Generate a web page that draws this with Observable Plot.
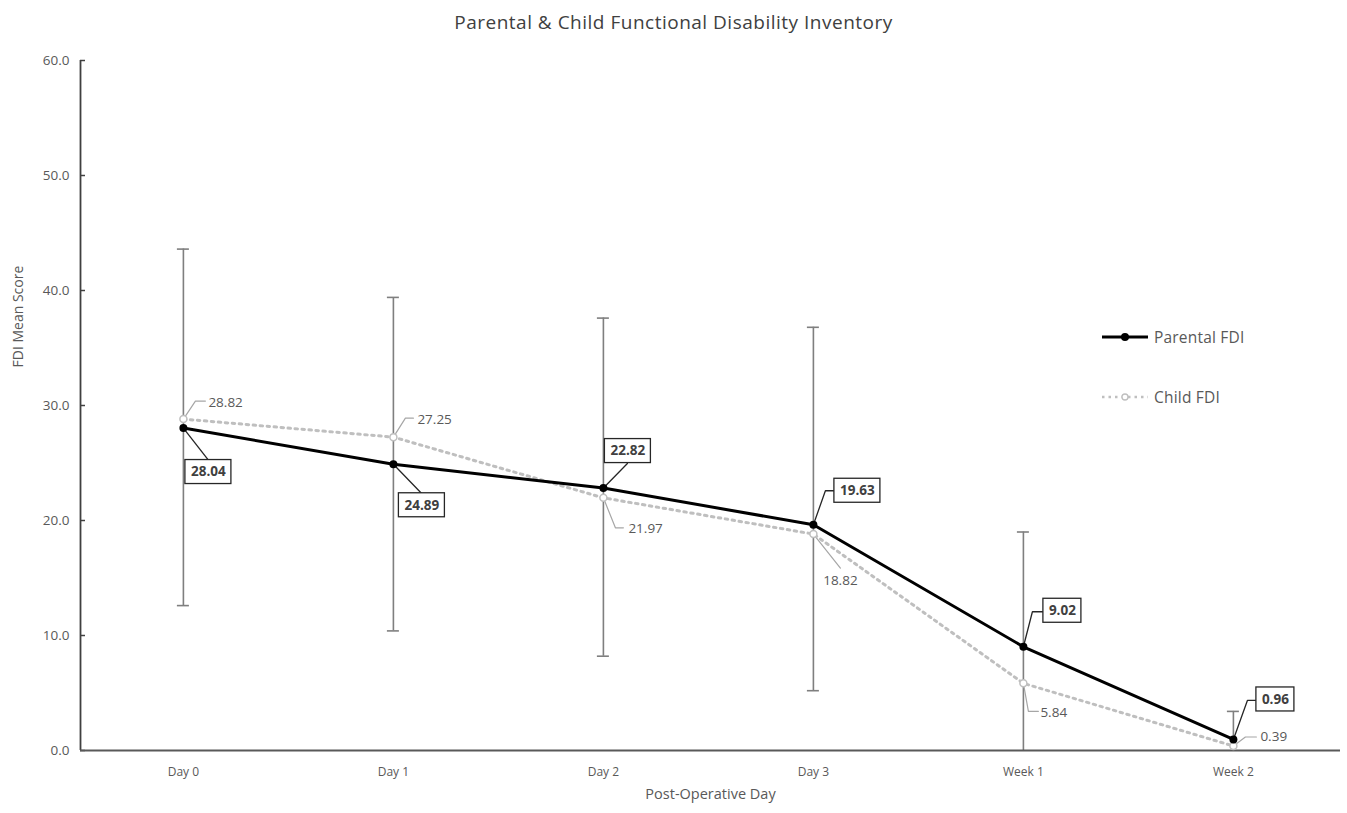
<!DOCTYPE html>
<html><head><meta charset="utf-8">
<script src="https://cdn.jsdelivr.net/npm/d3@7"></script>
<script src="https://cdn.jsdelivr.net/npm/@observablehq/plot@0.6"></script>
<style>
body{margin:0;background:#fff;font-family:"Open Sans",sans-serif;}
#wrap{position:relative;width:1347px;height:813px;overflow:hidden;}
#title{height:40px;line-height:44px;text-align:center;font-size:19px;letter-spacing:0.5px;color:#404040;}
.leg{position:absolute;display:flex;align-items:center;font-size:15.5px;letter-spacing:0.2px;color:#595959;height:20px;}
.leg svg{margin-right:4px;}
</style></head><body>
<div id="wrap">
<div id="title">Parental &amp; Child Functional Disability Inventory</div>
<div id="chart"></div>
</div>
<script>
// ---- data ----
const categories = ["Day 0", "Day 1", "Day 2", "Day 3", "Week 1", "Week 2"];
const parental = [28.04, 24.89, 22.82, 19.63, 9.02, 0.96];
const child = [28.82, 27.25, 21.97, 18.82, 5.84, 0.39];
const errUpper = [43.6, 39.4, 37.6, 36.8, 19.0, 3.4];
const errLower = [12.6, 10.4, 8.2, 5.2, 0, 0];
const yTicks = [0, 10, 20, 30, 40, 50, 60];
const seriesNames = ["Parental FDI", "Child FDI"];

// ---- layout (pixels) ----
const W = 1347, H = 773, ML = 80, MR = 7, MT = 20, MB = 63;
const xDomain = [-0.49, 5.51], yDomain = [0, 60];
const PX = (W - ML - MR) / (xDomain[1] - xDomain[0]);
const PY = (H - MT - MB) / (yDomain[1] - yDomain[0]);
// label offsets from the data point, in px (dx right, dy down)
const parentalBoxPos = [[25,44],[28.5,41],[24.5,-37],[44,-34],[39,-36],[42,-40]];
const parentalLeaders = [[[25,32]],[[28,29]],[[24,-24.5]],[[12,-34],[21,-34]],[[9,-35],[20,-35]],[[14,-39],[23,-39]]];
const childTextPos = [[25,-16,"start"],[24,-17,"start"],[25,31,"start"],[27,47,"middle"],[17,29,"start"],[27,-9,"start"]];
const childLeaders = [[[12,-18],[22,-18]],[[12,-19],[20,-19]],[[12,30],[20,30]],[[27,34]],[[5,28],[15,28]],[[12,-9],[23,-9]]];

const idx = categories.map((c, i) => i);
const off = (i, v, d) => ({x: i + d[0] / PX, y: v - d[1] / PY});

const rows = idx.map(i => ({i, parental: parental[i], child: child[i], hi: errUpper[i], lo: errLower[i]}));
const caps = [];
rows.forEach(r => { caps.push({i: r.i, y: r.hi}); if (r.lo > 0) caps.push({i: r.i, y: r.lo}); });

const leaderData = (vals, leaders, key) => idx.flatMap(i =>
  [{x: i, y: vals[i]}, ...leaders[i].map(d => off(i, vals[i], d))].map(p => ({...p, k: key + i})));

const boxW = s => 8 * s.length + 6, boxH = 24;
const pLabels = idx.map(i => {
  const t = parental[i].toFixed(2), c = off(i, parental[i], parentalBoxPos[i]), w = boxW(t);
  return {t, x: c.x, y: c.y, x1: c.x - w / 2 / PX, x2: c.x + w / 2 / PX, y1: c.y - boxH / 2 / PY, y2: c.y + boxH / 2 / PY};
});
const cLabels = idx.map(i => {
  const c = off(i, child[i], childTextPos[i]);
  return {t: child[i].toFixed(2), x: c.x, y: c.y, a: childTextPos[i][2]};
});

const fmt = d3.format(".1f");
const chart = Plot.plot({
  width: W, height: H, marginLeft: ML, marginRight: MR, marginTop: MT, marginBottom: MB,
  style: {fontFamily: "'Open Sans', sans-serif", background: "#fff"},
  x: {domain: xDomain}, y: {domain: yDomain},
  marks: [
    Plot.axisY({ticks: yTicks, tickFormat: fmt, tickSize: 0, tickPadding: 11, fontSize: 13.5, fill: "#595959", label: null}),
    Plot.axisX({ticks: idx, tickFormat: i => categories[i], tickSize: 0, tickPadding: 17, fontSize: 12, fill: "#595959", label: null}),
    Plot.text(["FDI Mean Score"], {frameAnchor: "left", dx: -62, dy: -38, rotate: -90, fontSize: 14, fill: "#595959"}),
    Plot.text(["Post-Operative Day"], {frameAnchor: "bottom", dy: 48, fontSize: 14.5, fill: "#595959"}),
    // error bars
    Plot.ruleX(rows, {x: "i", y1: "lo", y2: "hi", stroke: "#7f7f7f", strokeWidth: 1.6}),
    Plot.ruleY(caps, {y: "y", x1: d => d.i - 6 / PX, x2: d => d.i + 6 / PX, stroke: "#7f7f7f", strokeWidth: 1.6}),
    // axes lines
    Plot.ruleY(yTicks, {x1: xDomain[0], x2: xDomain[0] + 5 / PX, stroke: "#404040", strokeWidth: 1.5}),
    Plot.ruleX([xDomain[0]], {y1: yDomain[0], y2: yDomain[1], stroke: "#404040", strokeWidth: 1.8}),
    Plot.ruleY([0], {stroke: "#595959", strokeWidth: 2}),
    // leaders
    Plot.line(leaderData(child, childLeaders, "c"), {x: "x", y: "y", z: "k", stroke: "#a6a6a6", strokeWidth: 1.2}),
    Plot.line(leaderData(parental, parentalLeaders, "p"), {x: "x", y: "y", z: "k", stroke: "#262626", strokeWidth: 1.3}),
    // series
    Plot.line(rows, {x: "i", y: "child", stroke: "#bfbfbf", strokeWidth: 3, strokeDasharray: "2.5,4.5"}),
    Plot.line(rows, {x: "i", y: "parental", stroke: "#000", strokeWidth: 3}),
    Plot.dot(rows, {x: "i", y: "child", r: 3.5, stroke: "#bfbfbf", fill: "#fff", strokeWidth: 1.5}),
    Plot.dot(rows, {x: "i", y: "parental", r: 4, fill: "#000"}),
    // labels
    Plot.rect(pLabels, {x1: "x1", x2: "x2", y1: "y1", y2: "y2", fill: "#fff", stroke: "#262626", strokeWidth: 1.3}),
    Plot.text(pLabels, {x: "x", y: "y", text: "t", fontWeight: "bold", fontSize: 13.5, fill: "#404040"}),
    Plot.text(cLabels.filter(d => d.a === "start"), {x: "x", y: "y", text: "t", textAnchor: "start", fontSize: 13.5, fill: "#595959"}),
    Plot.text(cLabels.filter(d => d.a === "middle"), {x: "x", y: "y", text: "t", textAnchor: "middle", fontSize: 13.5, fill: "#595959"})
  ]
});
document.getElementById("chart").appendChild(chart);

// legend
const wrap = document.getElementById("wrap");
[{name: seriesNames[0], top: 327, dash: null, stroke: "#000", w: 3, dot: "#000", dotStroke: "none"},
 {name: seriesNames[1], top: 387, dash: "2.5,4", stroke: "#bfbfbf", w: 2.5, dot: "#fff", dotStroke: "#bfbfbf"}].forEach(s => {
  const d = document.createElement("div");
  d.className = "leg"; d.style.left = "1102px"; d.style.top = s.top + "px";
  d.innerHTML = `<svg width="48" height="20"><line x1="0" x2="46" y1="10" y2="10" stroke="${s.stroke}" stroke-width="${s.w}" ${s.dash ? `stroke-dasharray="${s.dash}"` : ""}/><circle cx="23" cy="10" r="${s.dotStroke === "none" ? 4 : 3}" fill="${s.dot}" stroke="${s.dotStroke}" stroke-width="1.3"/></svg><span>${s.name}</span>`;
  wrap.appendChild(d);
});
</script>
</body></html>
